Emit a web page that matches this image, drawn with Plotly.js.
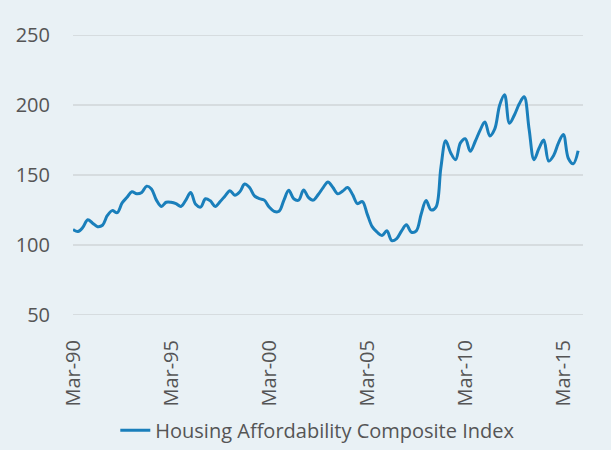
<!DOCTYPE html>
<html>
<head>
<meta charset="utf-8">
<script src="https://cdn.plot.ly/plotly-3.0.1.min.js"></script>
<style>
  html, body { margin: 0; padding: 0; background: #E9F1F5; }
  #chart { width: 611px; height: 450px; }
</style>
</head>
<body>
<div id="chart"></div>
<script>
// Quarterly observations, Mar-90 .. Dec-15
const startYear = 1990;
const quarterMonths = ['03', '06', '09', '12'];
const seriesName = 'Housing Affordability Composite Index';
const values = [
  111, 109.5, 112.5, 118,      // 1990
  115.5, 113, 114, 121,        // 1991
  124.5, 123, 130, 134,        // 1992
  138, 136.5, 137.5, 142,      // 1993
  140, 132, 127.5, 130.5,      // 1994
  130.5, 129.5, 127.5, 132,    // 1995
  137.5, 129, 127, 133,        // 1996
  131.5, 127.5, 131, 135,      // 1997
  138.8, 135.5, 138, 143.5,    // 1998
  141, 135, 133, 132,          // 1999
  127, 124, 124, 132,          // 2000
  139, 133, 132, 139.3,        // 2001
  134, 132, 136, 141,          // 2002
  145, 141, 136.5, 138.5,      // 2003
  141, 136, 129.5, 131,        // 2004
  122, 113, 109, 106.6,        // 2005
  110, 103, 104.5, 110,        // 2006
  114.3, 109, 110, 122,        // 2007
  131.7, 125, 127, 155,        // 2008
  174.5, 166, 161, 173,        // 2009
  176, 167, 174, 182,          // 2010
  188, 178, 183, 200,          // 2011
  207.5, 187, 193, 201,        // 2012
  206, 183, 161, 169,          // 2013
  175, 160, 164, 173,          // 2014
  179, 162, 158, 167.4         // 2015
];
const yTickVals = [50, 100, 150, 200, 250];

const dates = values.map((v, i) =>
  (startYear + Math.floor(i / 4)) + '-' + quarterMonths[i % 4] + '-01');

const fontFamily = '"Open Sans", "Liberation Sans", sans-serif';
const textColor = '#555555';

const trace = {
  x: dates,
  y: values,
  type: 'scatter',
  mode: 'lines',
  name: seriesName,
  line: { color: '#1A7FBB', width: 3, shape: 'spline', smoothing: 1 }
};

const layout = {
  width: 611,
  height: 450,
  paper_bgcolor: '#E9F1F5',
  plot_bgcolor: '#E9F1F5',
  margin: { l: 73, r: 28, t: 34, b: 134, autoexpand: false },
  font: { family: fontFamily, color: textColor, size: 20 },
  showlegend: true,
  legend: {
    orientation: 'h',
    x: 0.48, xanchor: 'center',
    yref: 'container',
    y: 0.044, yanchor: 'middle',
    bgcolor: 'rgba(0,0,0,0)',
    font: { family: fontFamily, color: textColor, size: 20 }
  },
  xaxis: {
    type: 'date',
    automargin: false,
    range: ['1990-03-01', '2016-03-01'],
    tick0: '1990-03-01',
    dtick: 'M60',
    tickformat: '%b-%y',
    tickangle: -90,
    ticks: 'outside',
    ticklen: 15,
    tickcolor: 'rgba(0,0,0,0)',
    showgrid: false,
    zeroline: false,
    showline: false,
    tickfont: { family: fontFamily, color: textColor, size: 20 }
  },
  yaxis: {
    automargin: false,
    range: [49, 251],
    tickvals: yTickVals,
    ticks: 'outside',
    ticklen: 18,
    tickcolor: 'rgba(0,0,0,0)',
    showgrid: true,
    gridcolor: '#D6DCDF',
    gridwidth: 1.5,
    zeroline: false,
    showline: false,
    tickfont: { family: fontFamily, color: textColor, size: 20 }
  }
};

Plotly.newPlot('chart', [trace], layout, { displayModeBar: false, staticPlot: true });
</script>
</body>
</html>
